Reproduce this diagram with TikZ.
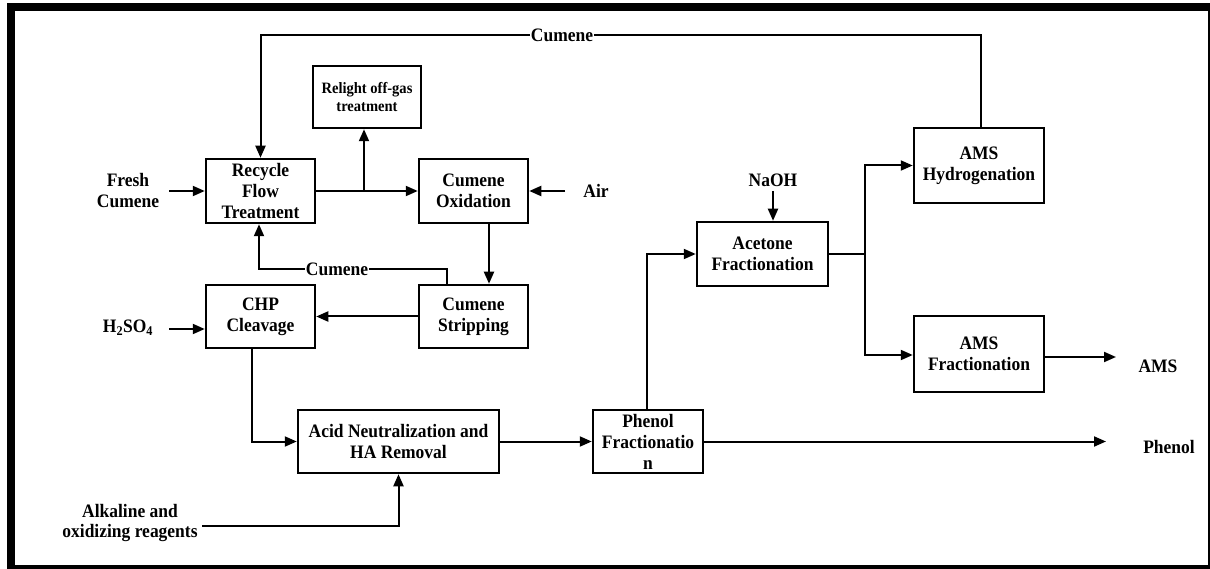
\documentclass[tikz,border=0pt]{standalone}
\usepackage{fontspec}
\setmainfont{Liberation Serif}[FakeStretch=0.92]
\usetikzlibrary{arrows.meta,calc}
\begin{document}
\begin{tikzpicture}[x=1pt,y=-1pt,
  txt/.style={font=\bfseries\fontsize{19}{21}\selectfont,align=center},
  box/.style={txt,draw,line width=2.5pt,inner sep=0pt},
  lbl/.style={txt,inner sep=0pt},
  ln/.style={line width=2pt},
  arr/.style={ln,-{Triangle[length=12pt,width=10pt]}}]
\useasboundingbox (0,0) rectangle (1210,569);
\fill[black] (7,3) rectangle (1210,569);
\fill[white] (15,11) rectangle (1208,565);
% boxes
\node[box,font=\bfseries\fontsize{15.8}{18}\selectfont,minimum width=108pt,minimum height=62pt] (relight) at (367,97) {Relight off-gas\\treatment};
\node[box,minimum width=109pt,minimum height=64pt] (recycle) at (260.5,191) {Recycle\\Flow\\Treatment};
\node[box,minimum width=109pt,minimum height=64pt] (oxid) at (473.5,191) {Cumene\\Oxidation};
\node[box,minimum width=109pt,minimum height=63pt] (chp) at (260.5,316.5) {CHP\\Cleavage};
\node[box,minimum width=109pt,minimum height=63pt] (strip) at (473.5,316.5) {Cumene\\Stripping};
\node[box,minimum width=201pt,minimum height=63pt] (acid) at (398.5,441.5) {Acid Neutralization and\\HA Removal};
\node[box,minimum width=110pt,minimum height=63pt] (phenol) at (648,441.5) {Phenol\\Fractionatio\\n};
\node[box,minimum width=131pt,minimum height=64pt] (acetone) at (762.5,254) {Acetone\\Fractionation};
\node[box,minimum width=130pt,minimum height=75pt] (amsh) at (979,165.5) {AMS\\Hydrogenation};
\node[box,minimum width=130pt,minimum height=76pt] (amsf) at (979,354) {AMS\\Fractionation};
% labels
\node[lbl] (fresh) at (128,191) {Fresh\\Cumene};
\node[lbl] (air) at (596,191) {Air};
\node[lbl] (h2so4) at (128,328) {H\textsubscript{2}SO\textsubscript{4}};
\node[lbl,font=\bfseries\fontsize{19}{20.5}\selectfont] (alk) at (130,523) {Alkaline and\\oxidizing reagents};
\node[lbl] (naoh) at (773,180) {NaOH};
\node[lbl] (amsout) at (1158,366) {AMS};
\node[lbl] (phout) at (1169,447) {Phenol};
% free-end coordinates
\coordinate (ty) at (0,35);
\coordinate (ly) at (0,269);
\coordinate (fcs) at (169,191);
\coordinate (airs) at (565,191);
\coordinate (hs) at (169,329);
\coordinate (als) at (202,526);
\coordinate (ns) at (773,191);
\coordinate (j1) at (364,191);
\coordinate (j2) at (865,254);
\coordinate (pout) at (1106,442);
\coordinate (aout) at (1116,357);
% connectors
\draw[arr] ([xshift=1.5pt]amsh.north) |- (recycle.north |- ty) -- (recycle.north);
\node[lbl,fill=white,inner xsep=1pt] (topcum) at (562,35) {Cumene};
\draw[arr] ([xshift=-26.5pt]strip.north) |- ([xshift=-1.5pt]recycle.south |- ly) -- ([xshift=-1.5pt]recycle.south);
\node[lbl,fill=white,inner xsep=1pt] (lowcum) at (337,269) {Cumene};
\draw[arr] (fcs) -- (recycle.west);
\draw[arr] (recycle) -- (oxid);
\draw[arr] (j1) -- (j1 |- relight.south);
\draw[arr] (airs) -- (oxid.east);
\draw[arr] ([xshift=15.5pt]oxid.south) -- ([xshift=15.5pt]strip.north);
\draw[arr] (strip) -- (chp);
\draw[arr] (hs) -- (hs -| chp.west);
\draw[arr] ([xshift=-8.5pt]chp.south) |- (acid.west);
\draw[arr] (als) -| (acid.south);
\draw[arr] (acid) -- (phenol);
\draw[arr] (phenol.east) -- (pout |- phenol.east);
\draw[arr] ([xshift=-1pt]phenol.north) |- (acetone.west);
\draw[arr] (ns) -- (ns |- acetone.north);
\draw[ln] (acetone.east) -- (j2);
\draw[arr] (j2) |- (amsh.west);
\draw[arr] (j2) |- ([yshift=-1pt]amsf.west);
\draw[arr] (amsf.east |- aout) -- (aout);
\end{tikzpicture}
\end{document}
